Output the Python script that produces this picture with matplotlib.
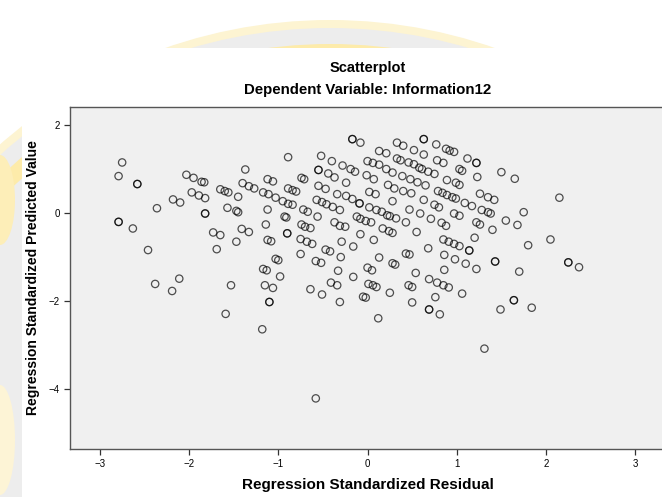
import matplotlib
matplotlib.use('Agg')
import matplotlib.pyplot as plt
from matplotlib.patches import Circle, Rectangle, Ellipse

plt.rcParams['font.family'] = ['Liberation Sans', 'DejaVu Sans']

# regression standardized residual (x) / predicted value (y)
resid = [-2.75, -2.79, -2.58, -2.58, -2.03, -1.95, -1.86, -1.83, -1.97, -1.89,
         -1.82, -2.18, -2.10, -2.36, -1.82, -1.82, -2.79, -2.79, -2.63,
         -0.89, -1.37, -0.52, -0.40, -0.28, -0.55, -0.55, -0.44, -0.37, -1.40,
         -1.33, -1.27, -1.12, -1.06, -0.74, -0.71, -0.55, -0.47, -1.65, -1.60,
         -1.56, -1.45, -1.17, -1.11, -1.03, -0.89, -0.84, -0.80, -0.95, -0.89,
         -0.84, -0.57, -0.51, -0.46, -0.39, -0.31, -0.34, -1.57, -1.47, -1.45,
         -1.12, -0.72, -0.67, -0.56, -0.37, -0.31, -0.93, -0.91, -1.14, -0.74,
         -0.70, -0.64, -1.41, -1.33, -1.73, -1.65, -0.90, -0.90, -1.12, -1.08,
         -0.17, -0.17, -0.08, 0.33, 0.40, 0.63, 0.63, 0.77, 0.88, 0.92,
         0.97, 0.52, 0.63, 0.13, 0.21, 1.12, 1.22, 1.22, 0.00, 0.06,
         0.13, 0.21, 0.33, 0.37, 0.46, 0.52, 0.58, 0.61, 0.68, 0.75,
         0.28, 0.39, 0.48, 0.56, 0.65, 0.78, 0.85, 1.03, 1.06, 1.23,
         -0.19, -0.14, -0.01, 0.07, -0.24, 0.23, 0.30, 0.40, 0.49, -0.24,
         -0.17, -0.09, -0.09, 0.02, 0.09, 0.89, 0.99, 1.03, 0.79, 0.84,
         0.89, 0.95, 0.99, 1.26, 0.28, 0.63, 1.09, 1.17, 0.02, 0.10,
         0.16, 0.22, 0.25, 0.32, 0.47, 0.59, 0.75, 0.80, 0.71, 0.83,
         0.88, 0.97, 1.03, -0.12, -0.08, -0.02, 0.04, -0.25, 0.43, -0.08,
         0.17, 0.24, 0.28, 0.55, 1.22, 1.26,
         1.50, 1.65, 1.35, 1.42, 2.15, 1.28, 1.35, 1.38, 1.75, 1.55,
         1.68, 1.40,
         -2.46, -2.38, -2.11, -2.19,
         -1.69, -1.47, -0.75, -0.68, -0.62, -0.29, -0.75, -0.47, -0.42, -0.30,
         -1.03, -1.00, -1.17, -1.13, -0.98, -0.58, -0.52, -0.33, -1.53, -1.15,
         -1.06, -1.10, -1.10, -0.64, -0.51, -0.41, -0.34, -0.31, -1.59, -1.18,
         -0.16, 0.07, 0.13, 0.00, 0.05, 0.28, 0.31, 0.43, 0.47, 0.68,
         0.85, 0.91, 0.97, 1.03, 1.14, 1.14, 1.20, 0.86, 0.98, 1.10,
         1.22, 0.86, -0.16, 0.01, 0.06, 0.10, 0.54, 0.46, 0.50, 0.69,
         0.78, 0.85, 0.91, 0.25, -0.05, -0.02, 0.76, 1.06, 0.50, 0.69,
         0.69, 0.81, 0.12,
         1.80, 2.05, 1.43, 1.43, 1.70, 2.25, 2.25, 2.37, 1.64, 1.64,
         1.49, 1.84, 1.31, -0.58]

predicted = [1.15, 0.84, 0.66, 0.66, 0.87, 0.80, 0.71, 0.70, 0.47, 0.40,
             0.34, 0.31, 0.24, 0.11, -0.01, -0.01, -0.20, -0.20, -0.35,
             1.27, 0.99, 1.30, 1.18, 1.08, 0.98, 0.98, 0.90, 0.81, 0.68,
             0.61, 0.56, 0.77, 0.72, 0.80, 0.77, 0.62, 0.55, 0.54, 0.50,
             0.47, 0.37, 0.47, 0.43, 0.35, 0.56, 0.52, 0.49, 0.27, 0.21,
             0.19, 0.30, 0.25, 0.20, 0.14, 0.07, 0.43, 0.12, 0.05, 0.02,
             0.08, 0.08, 0.03, -0.08, -0.21, -0.29, -0.08, -0.10, -0.26, -0.26,
             -0.31, -0.34, -0.36, -0.43, -0.44, -0.50, -0.46, -0.46, -0.61, -0.64,
             1.68, 1.68, 1.60, 1.60, 1.53, 1.68, 1.68, 1.56, 1.46, 1.42,
             1.39, 1.43, 1.33, 1.41, 1.36, 1.24, 1.14, 1.14, 1.18, 1.14,
             1.10, 1.00, 1.24, 1.20, 1.15, 1.11, 1.03, 1.00, 0.94, 0.89,
             0.92, 0.84, 0.77, 0.70, 0.63, 1.20, 1.14, 1.00, 0.96, 0.82,
             1.00, 0.94, 0.86, 0.77, 0.69, 0.64, 0.56, 0.50, 0.45, 0.39,
             0.32, 0.22, 0.22, 0.48, 0.43, 0.75, 0.69, 0.64, 0.50, 0.46,
             0.41, 0.36, 0.33, 0.44, 0.27, 0.30, 0.23, 0.16, 0.13, 0.07,
             0.03, -0.05, -0.07, -0.12, 0.08, -0.01, 0.19, 0.13, -0.13, -0.22,
             -0.29, -0.01, -0.06, -0.08, -0.13, -0.18, -0.21, -0.31, -0.21, -0.48,
             -0.35, -0.41, -0.45, -0.43, -0.21, -0.26,
             0.93, 0.78, 0.36, 0.30, 0.35, 0.07, 0.02, -0.01, 0.02, -0.17,
             -0.27, -0.38,
             -0.84, -1.61, -1.49, -1.77,
             -0.82, -0.65, -0.59, -0.65, -0.70, -0.65, -0.93, -0.83, -0.87, -1.00,
             -1.04, -1.07, -1.27, -1.30, -1.44, -1.09, -1.13, -1.31, -1.64, -1.64,
             -1.70, -2.02, -2.02, -1.73, -1.85, -1.58, -1.64, -2.02, -2.29, -2.64,
             -0.76, -0.61, -1.01, -1.24, -1.30, -1.14, -1.17, -0.92, -0.94, -0.80,
             -0.60, -0.65, -0.70, -0.75, -0.85, -0.85, -0.56, -0.95, -1.05, -1.15,
             -1.27, -1.29, -1.45, -1.61, -1.64, -1.68, -1.36, -1.64, -1.68, -1.50,
             -1.58, -1.64, -1.69, -1.81, -1.90, -1.92, -1.91, -1.83, -2.03, -2.19,
             -2.19, -2.30, -2.39,
             -0.73, -0.60, -1.10, -1.10, -1.33, -1.12, -1.12, -1.23, -1.98, -1.98,
             -2.19, -2.15, -3.08, -4.21]

xticks = [-3, -2, -1, 0, 1, 2, 3]
yticks = [-4, -2, 0, 2]

fig = plt.figure(figsize=(6.62, 4.97), dpi=100)

# watermark behind the pasted chart
bg = fig.add_axes([0, 0, 1, 1], zorder=-1)
bg.set_xlim(0, 662)
bg.set_ylim(497, 0)
bg.axis('off')
bg.add_patch(Circle((330, 520), 500, color='#fdf4d2', lw=0))
bg.add_patch(Circle((330, 520), 492, color='#ededed', lw=0))
bg.add_patch(Circle((330, 520), 476, color='#fdebaa', lw=0))
bg.add_patch(Circle((330, 520), 460, color='#ededed', lw=0))
bg.add_patch(Ellipse((0, 200), 30, 90, color='#fdeeb8', lw=0))
bg.add_patch(Ellipse((0, 440), 30, 110, color='#fdf4d6', lw=0))
bg.add_patch(Rectangle((22, 48), 650, 460, color='white', lw=0))

ax = fig.add_axes([69.5 / 662, 48 / 497, (662 - 69.5) / 662, 342 / 497], zorder=1)
ax.set_facecolor('#f0f0f0')
ax.scatter(resid, predicted, s=28, facecolors='none', edgecolors='black',
           linewidths=0.9, alpha=0.68)

ax.set_xlim(-3.34, 3.30)
ax.set_ylim(-5.36, 2.41)
ax.set_xticks(xticks)
ax.set_yticks(yticks)
ax.tick_params(labelsize=7, length=4.5, width=0.9, color='#333333', pad=2.5)
for side in ['left', 'bottom', 'top']:
    ax.spines[side].set_color('#555555')
    ax.spines[side].set_linewidth(1.0)
ax.spines['right'].set_visible(False)

fig.text(368 / 662, 1 - 68 / 497, 'Scatterplot', ha='center', va='center',
         fontsize=10.5, fontweight='bold')
fig.text(368 / 662, 1 - 90 / 497, 'Dependent Variable: Information12', ha='center',
         va='center', fontsize=10.8, fontweight='bold')
fig.text(368 / 662, 1 - 485 / 497, 'Regression Standardized Residual', ha='center',
         va='center', fontsize=11, fontweight='bold')
fig.text(33 / 662, 1 - 278 / 497, 'Regression Standardized Predicted Value',
         ha='center', va='center', rotation=90, fontsize=10, fontweight='bold')

fig.savefig('out.png', dpi=100)
